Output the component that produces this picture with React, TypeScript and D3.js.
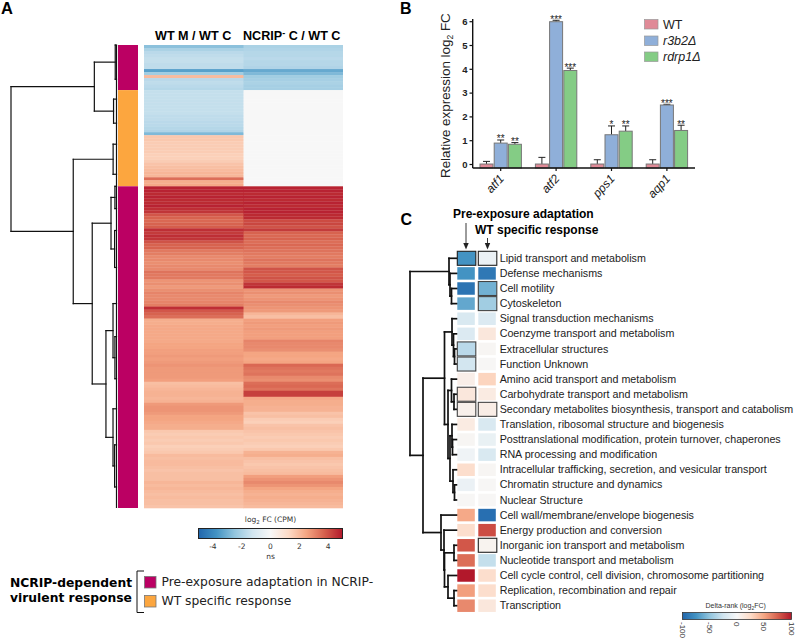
import React from "react";
import * as d3 from "d3";

// ---------- Panel A data (log2 FC per gene row) ----------
const wtMRows = [
  -2.6,-2.0,-1.7,-1.6,-1.5,-1.5,-1.6,-1.6,-3.4,-2.2,2.0,-1.7,-1.6,-1.7,-1.8,
  -1.5,-1.5,-1.5,-1.5,-1.5,-1.5,-1.5,-1.5,-1.6,-1.6,-1.7,-1.7,-1.8,-1.9,-2.8,
  1.7,1.7,1.6,1.6,1.6,1.6,1.5,1.5,1.6,1.8,1.9,2.0,2.1,2.1,3.5,2.3,2.4,
  4.8,4.8,4.7,4.8,4.7,4.7,4.8,4.6,4.5,
  3.9,3.7,3.6,3.7,3.8,
  4.6,4.4,4.6,4.5,
  4.0,3.7,3.7,3.3,3.2,
  3.0,3.0,2.9,3.0,3.0,
  3.4,3.3,3.3,2.8,2.9,2.7,
  2.9,3.1,3.0,3.0,3.1,3.2,
  4.6,3.9,3.7,3.5,
  2.3,2.3,2.4,2.4,2.4,2.4,2.4,2.4,2.5,2.5,2.6,
  2.6,2.7,2.6,2.7,2.8,2.7,2.7,2.7,2.7,2.6,
  1.9,2.0,2.1,2.2,2.2,2.1,2.2,
  2.7,2.8,2.8,2.7,
  2.5,2.5,2.4,2.3,2.3,
  1.7,1.6,1.7,1.6,1.7,1.5,1.6,1.7,
  2.0,1.9,2.0,2.0,1.9,1.8,1.9,1.9,1.9,2.1,2.0,2.1,2.0,1.9,2.0,1.9,1.9,1.8,
];
const ncripRows = [
  -2.0,-1.9,-1.8,-1.8,-1.7,-1.8,-1.8,-1.9,-3.2,-2.8,-2.2,-2.1,-2.0,-2.1,-2.1,
  0,0,0,0,0,0,0,0,0,0,0,0,0,0,0,0,
  0,0,0,0,0,0,0,0,0,0,0,0,0,0,0,0,
  4.8,4.8,4.7,4.8,4.7,4.8,4.7,4.8,4.8,4.7,4.7,
  4.1,4.2,4.0,4.4,
  3.7,3.6,3.7,3.5,3.6,3.5,
  3.4,3.3,3.2,3.4,3.3,3.2,
  4.0,3.9,3.8,4.0,3.9,4.5,4.7,
  2.8,2.9,2.7,2.8,3.0,2.9,2.8,2.7,
  2.1,1.9,
  2.6,2.7,2.6,2.7,2.6,2.6,2.6,
  3.1,3.0,3.0,2.9,
  2.5,2.5,2.4,2.5,
  3.6,3.4,3.3,3.4,3.0,2.9,
  3.5,3.6,3.4,4.3,4.3,
  2.4,2.3,2.3,2.2,2.2,
  1.8,1.9,1.6,1.5,1.8,1.9,1.8,
  1.7,1.6,1.7,1.6,1.5,1.7,2.2,2.3,
  1.9,1.8,1.7,1.8,1.9,2.0,
  2.6,2.8,3.0,2.8,2.5,
  2.3,2.2,2.3,2.2,2.1,2.0,
];
const heatColumns = ["WT M / WT C", "NCRIP C / WT C"];
const clusterSpans: [number, number, string][] = [
  [0, 15, "pre"],
  [15, 47, "wt"],
  [47, 154, "pre"],
];
const heatLegendTicks = [-4, -2, 0, 2, 4];

type T = number | { h: number; kids: T[] };
const n = (h: number, ...kids: T[]): T => ({ h, kids });
const rowTree: T = n(100,
  n(21, n(1.2, 0, 11.4), n(2.8, 18, 26)),
  n(41,
    n(3.2, 33, 43),
    n(23,
      n(5.2, n(1.5, 47, 54.4), n(1.8, 61.7, 74)),
      n(10, n(3.3, 86, n(1.5, 97, 111)), n(3.3, 121, n(1.8, 133, 147))),
    ),
  ),
);

// ---------- Panel B data ----------
const genes = ["atf1", "atf2", "pps1", "aqp1"];
const strains = ["WT", "r3b2Δ", "rdrp1Δ"];
const wtMeans = [0.02, 0.02, 0.02, 0.02];
const wtTops = [0.13, 0.3, 0.2, 0.2];
const r3b2Means = [0.9, 6.0, 1.25, 2.5];
const r3b2Tops = [1.03, 6.06, 1.62, 2.53];
const rdrp1Means = [0.85, 3.95, 1.4, 1.43];
const rdrp1Tops = [0.92, 4.05, 1.62, 1.65];
const r3b2Stars = ["**", "***", "*", "***"];
const rdrp1Stars = ["**", "***", "**", "**"];
const expressionTicks = [0, 1, 2, 3, 4, 5, 6];

// ---------- Panel C data ----------
const cogCategories = [
  "Lipid transport and metabolism",
  "Defense mechanisms",
  "Cell motility",
  "Cytoskeleton",
  "Signal transduction mechanisms",
  "Coenzyme transport and metabolism",
  "Extracellular structures",
  "Function Unknown",
  "Amino acid transport and metabolism",
  "Carbohydrate transport and metabolism",
  "Secondary metabolites biosynthesis, transport and catabolism",
  "Translation, ribosomal structure and biogenesis",
  "Posttranslational modification, protein turnover, chaperones",
  "RNA processing and modification",
  "Intracellular trafficking, secretion, and vesicular transport",
  "Chromatin structure and dynamics",
  "Nuclear Structure",
  "Cell wall/membrane/envelope biogenesis",
  "Energy production and conversion",
  "Inorganic ion transport and metabolism",
  "Nucleotide transport and metabolism",
  "Cell cycle control, cell division, chromosome partitioning",
  "Replication, recombination and repair",
  "Transcription",
];
const preExposureRank = [-75,-75,-92,-65,-20,-18,-34,-24,8,14,6,11,2,-5,22,-8,1,48,22,78,70,100,52,60];
const wtSpecificRank = [-8,-90,-60,-44,-18,14,2,1,28,11,9,-20,-9,-20,2,1,1,-95,82,4,-30,22,22,14];
const preExposureBoxed = [0, 6, 7, 9, 10];
const wtSpecificBoxed = [0, 2, 3, 10, 19];
const rankLegendTicks = [-100, -50, 0, 50, 100];
const cogTree: T = n(47,
  n(8, 0, n(7, 1, n(5.5, 2, 3))),
  n(34,
    n(12.5,
      n(5, 4, n(3.5, 5, n(2.5, 6, 7))),
      n(9, n(5.5, 8, n(3, 9, 10)), n(7, n(5, 11, n(4.5, 12, 13)), n(4, 14, n(2.5, 15, 16)))),
    ),
    n(16, 17, n(13, 18, n(12.5, n(3, 19, 20), n(9, 21, n(3, 22, 23))))),
  ),
);

// ---------- Helpers ----------
const ARIAL = "'Liberation Sans', Arial, sans-serif";
const DEJAVU = "'DejaVu Sans', Verdana, sans-serif";
const rdbu = ["#2166ac","#4393c3","#92c5de","#d1e5f0","#f7f7f7","#fddbc7","#f4a582","#d6604d","#b2182b"];
const heatColor = d3.scaleLinear<string>().domain([-5,-3.75,-2.5,-1.25,0,1.25,2.5,3.75,5]).range(rdbu).clamp(true);
const rankColor = d3.scaleLinear<string>().domain([-100,-75,-50,-25,0,25,50,75,100]).range(rdbu).clamp(true);
const clusterColor: Record<string, string> = { pre: "#bb0063", wt: "#fca63f" };

function treeLines(tree: T, xOf: (h: number) => number, yOf: (l: number) => number) {
  const segs: [number, number, number, number][] = [];
  const walk = (t: T): { x: number; y: number } => {
    if (typeof t === "number") return { x: xOf(0), y: yOf(t) };
    const pts = t.kids.map(walk);
    const x = xOf(t.h);
    pts.forEach((p) => segs.push([x, p.y, p.x, p.y]));
    const ys = pts.map((p) => p.y);
    segs.push([x, d3.min(ys)!, x, d3.max(ys)!]);
    return { x, y: d3.mean(ys)! };
  };
  walk(tree);
  return segs;
}

function Gradient({ id, color, domain }: { id: string; color: (v: number) => string; domain: number[] }) {
  return (
    <linearGradient id={id}>
      {domain.map((v, i) => (
        <stop key={i} offset={i / (domain.length - 1)} stopColor={color(v)} />
      ))}
    </linearGradient>
  );
}

function PanelA() {
  const rowY = d3.scaleLinear().domain([0, wtMRows.length]).range([45, 508]);
  const colX = d3.scaleBand().domain(heatColumns).range([144, 343]);
  const bandW = colX.bandwidth();
  const treeX = d3.scaleLinear().domain([0, 100]).range([116.5, 11]);
  const legX = d3.scaleLinear().domain([-5, 5]).range([198.5, 342.5]);
  const rowH = rowY(1) - rowY(0);
  return (
    <g>
      <text x={1} y={14} fontFamily={ARIAL} fontWeight="bold" fontSize={16.5}>A</text>
      <text x={155} y={40} fontFamily={ARIAL} fontWeight="bold" fontSize={12.6}>{heatColumns[0]}</text>
      <text x={243} y={40} fontFamily={ARIAL} fontWeight="bold" fontSize={12.6}>
        NCRIP<tspan dy={-4} fontSize={9}>-</tspan><tspan dy={4}> C / WT C</tspan>
      </text>
      <g filter="url(#soften)">
        {[wtMRows, ncripRows].map((vals, c) =>
          vals.map((v, i) => (
            <rect key={`${c}-${i}`} x={colX(heatColumns[c])!} y={rowY(i)} width={bandW + (c === 0 ? 0.5 : 0)} height={rowH + 0.3} fill={heatColor(v)} />
          ))
        )}
      </g>
      {clusterSpans.map(([a, b, k], i) => (
        <rect key={i} x={118} y={rowY(a)} width={20} height={rowY(b) - rowY(a)} fill={clusterColor[k]} />
      ))}
      {treeLines(rowTree, (h) => treeX(h), (r) => rowY(r)).map(([x1, y1, x2, y2], i) => (
        <line key={i} x1={x1} y1={y1} x2={x2} y2={y2} stroke="#111" strokeWidth={1.2} strokeLinecap="square" />
      ))}
      <line x1={treeX(0)} x2={treeX(0)} y1={rowY(0)} y2={rowY(wtMRows.length)} stroke="#111" strokeWidth={1.2} />

      <text x={legX(0)} y={522} textAnchor="middle" fontFamily={DEJAVU} fontSize={7.5} fill="#333">
        log<tspan dy={1.5} fontSize={5.5}>2</tspan><tspan dy={-1.5}> FC (CPM)</tspan>
      </text>
      <rect x={legX(-5)} y={528.5} width={legX(5) - legX(-5)} height={10} fill="url(#gHeat)" stroke="#222" strokeWidth={1} />
      {heatLegendTicks.map((t) => (
        <text key={t} x={legX(t)} y={548.5} textAnchor="middle" fontFamily={DEJAVU} fontSize={7.5} fill="#333">{t}</text>
      ))}
      <text x={legX(0)} y={558.5} textAnchor="middle" fontFamily={DEJAVU} fontSize={7.5} fill="#333">ns</text>

      <text x={71} y={587} textAnchor="middle" fontFamily={DEJAVU} fontWeight="bold" fontSize={12.3}>NCRIP-dependent</text>
      <text x={71} y={602} textAnchor="middle" fontFamily={DEJAVU} fontWeight="bold" fontSize={12.3}>virulent response</text>
      <path d="M144 571H137V612.5H144" fill="none" stroke="#111" strokeWidth={1} />
      <rect x={144.5} y={576.5} width={11.5} height={11.5} fill={clusterColor.pre} stroke="#777" strokeWidth={0.8} />
      <rect x={144.5} y={595.5} width={11.5} height={11.5} fill={clusterColor.wt} stroke="#777" strokeWidth={0.8} />
      <text x={161.5} y={586} fontFamily={DEJAVU} fontSize={12.3} fill="#222">Pre-exposure adaptation in NCRIP-</text>
      <text x={161.5} y={605} fontFamily={DEJAVU} fontSize={12.3} fill="#222">WT specific response</text>
    </g>
  );
}

function PanelB() {
  const x = d3.scaleBand().domain(genes).range([473, 694.6]);
  const inner = d3.scaleBand().domain(strains).range([-21.3, 21.3]);
  const y = d3.scaleLinear().domain([0, 6]).range([164.5, 21.7]);
  const base = 168;
  const series = [
    { name: strains[0], fill: "#e08a97", means: wtMeans, tops: wtTops, stars: null as string[] | null },
    { name: strains[1], fill: "#8fafd9", means: r3b2Means, tops: r3b2Tops, stars: r3b2Stars },
    { name: strains[2], fill: "#84cc85", means: rdrp1Means, tops: rdrp1Tops, stars: rdrp1Stars },
  ];
  const barW = 13;
  return (
    <g>
      <text x={400} y={13.5} fontFamily={ARIAL} fontWeight="bold" fontSize={16}>B</text>
      <text transform="translate(449.5,178) rotate(-90)" fontFamily={ARIAL} fontSize={13.4} fill="#222">
        Relative expression log<tspan dy={3} fontSize={8.5}>2</tspan><tspan dy={-3}> FC</tspan>
      </text>
      {series.map((s) =>
        genes.map((g, i) => {
          const cx = x(g)! + x.bandwidth() / 2 + inner(s.name)! + inner.bandwidth() / 2;
          return (
            <g key={s.name + g}>
              <line x1={cx} x2={cx} y1={y(s.means[i])} y2={y(s.tops[i])} stroke="#222" strokeWidth={1} />
              <line x1={cx - 3.5} x2={cx + 3.5} y1={y(s.tops[i])} y2={y(s.tops[i])} stroke="#222" strokeWidth={1} />
              <rect x={cx - barW / 2} y={y(s.means[i])} width={barW} height={base - y(s.means[i])} fill={s.fill} stroke="#777" strokeWidth={1} />
              {s.stars && (
                <text x={cx} y={y(s.tops[i]) + 2.5} textAnchor="middle" fontFamily={ARIAL} fontSize={10} fill="#222">{s.stars[i]}</text>
              )}
            </g>
          );
        })
      )}
      <line x1={472.7} x2={695} y1={base} y2={base} stroke="#111" strokeWidth={1.4} />
      <line x1={472.7} x2={472.7} y1={19} y2={base} stroke="#111" strokeWidth={1.4} />
      {expressionTicks.map((t) => (
        <g key={t}>
          <line x1={469.5} x2={472.7} y1={y(t)} y2={y(t)} stroke="#111" strokeWidth={1.2} />
          <text x={467.5} y={y(t) + 3.3} textAnchor="end" fontFamily={ARIAL} fontWeight="bold" fontSize={9.5} fill="#222">{t}</text>
        </g>
      ))}
      {genes.map((g) => {
        const cx = x(g)! + x.bandwidth() / 2;
        return (
          <g key={g}>
            <line x1={cx} x2={cx} y1={base} y2={base + 3} stroke="#111" strokeWidth={1.2} />
            <text transform={`translate(${cx + 4},${base + 11}) rotate(-48)`} textAnchor="end" fontFamily={ARIAL} fontStyle="italic" fontSize={12} fill="#222">{g}</text>
          </g>
        );
      })}
      {series.map((s, i) => (
        <g key={s.name}>
          <rect x={644.5} y={19.5 + [0, 16.5, 32.5][i]} width={13.5} height={9.5} fill={s.fill} stroke="#999" strokeWidth={0.7} />
          <text x={663} y={28.5 + [0, 16.5, 32.5][i]} fontFamily={ARIAL} fontSize={12.5} fontStyle={i ? "italic" : "normal"} fill="#222">{s.name}</text>
        </g>
      ))}
    </g>
  );
}

function PanelC() {
  const y = d3.scalePoint().domain(cogCategories).range([258.3, 605.7]);
  const rowOf = d3.scaleLinear().domain([0, cogCategories.length - 1]).range([258.3, 605.7]);
  const treeX = d3.scaleLinear().domain([0, 47]).range([457, 410]);
  const legX = d3.scaleLinear().domain([-100, 100]).range([682.5, 791.5]);
  const cols = [
    { x0: 457.3, vals: preExposureRank, boxed: preExposureBoxed },
    { x0: 478.3, vals: wtSpecificRank, boxed: wtSpecificBoxed },
  ];
  const w = 17.5, h = 12.5;
  return (
    <g>
      <text x={400.5} y={225} fontFamily={ARIAL} fontWeight="bold" fontSize={16}>C</text>
      <text x={453} y={218} fontFamily={ARIAL} fontWeight="bold" fontSize={12}>Pre-exposure adaptation</text>
      <text x={475} y={234} fontFamily={ARIAL} fontWeight="bold" fontSize={12}>WT specific response</text>
      <line x1={466} x2={466} y1={223} y2={246} stroke="#222" strokeWidth={0.9} />
      <path d="M463.3 243L466 249.5L468.7 243Z" fill="#222" />
      <line x1={487.5} x2={487.5} y1={238} y2={246} stroke="#222" strokeWidth={0.9} />
      <path d="M484.8 243L487.5 249.5L490.2 243Z" fill="#222" />
      {treeLines(cogTree, (v) => treeX(v), (l) => rowOf(l)).map(([x1, y1, x2, y2], i) => (
        <line key={i} x1={x1} y1={y1} x2={x2} y2={y2} stroke="#111" strokeWidth={1.7} strokeLinecap="square" />
      ))}
      {cols.map((c, ci) =>
        cogCategories.map((cat, i) => (
          <rect key={ci + cat} x={c.x0} y={y(cat)! - h / 2} width={w} height={h} fill={rankColor(c.vals[i])} />
        ))
      )}
      {cols.map((c, ci) =>
        c.boxed.map((i) => (
          <rect key={`${ci}b${i}`} x={c.x0} y={y(cogCategories[i])! - 7} width={w + 1} height={14} fill={rankColor(c.vals[i])} stroke={i === 0 || i === 19 ? "#222" : "#444"} strokeWidth={1.1} />
        ))
      )}
      {cogCategories.map((cat) => (
        <text key={cat} x={499.7} y={y(cat)! + 3.6} fontFamily={ARIAL} fontSize={10.7} fill="#222">{cat}</text>
      ))}
      <text x={735.7} y={608} textAnchor="middle" fontFamily={ARIAL} fontSize={7} fill="#333">
        Delta-rank (log<tspan dy={1.5} fontSize={5}>2</tspan><tspan dy={-1.5}>FC)</tspan>
      </text>
      <rect x={legX(-100)} y={612.5} width={legX(100) - legX(-100)} height={7} fill="url(#gRank)" stroke="#333" strokeWidth={0.8} />
      {rankLegendTicks.map((t) => (
        <text key={t} transform={`translate(${legX(t) - 3},622) rotate(90)`} fontFamily={ARIAL} fontSize={8} fill="#333">{t}</text>
      ))}
    </g>
  );
}

export default function App() {
  return (
    <svg width={795} height={640} viewBox="0 0 795 640" style={{ position: "absolute", left: 0, top: 0, background: "#fff" }}>
      <defs>
        <Gradient id="gHeat" color={heatColor} domain={[-5,-3.75,-2.5,-1.25,0,1.25,2.5,3.75,5]} />
        <Gradient id="gRank" color={rankColor} domain={[-100,-75,-50,-25,0,25,50,75,100]} />
        <filter id="soften" x="0" y="0" width="1" height="1">
          <feGaussianBlur stdDeviation="0 0.6" />
        </filter>
      </defs>
      <PanelA />
      <PanelB />
      <PanelC />
    </svg>
  );
}
